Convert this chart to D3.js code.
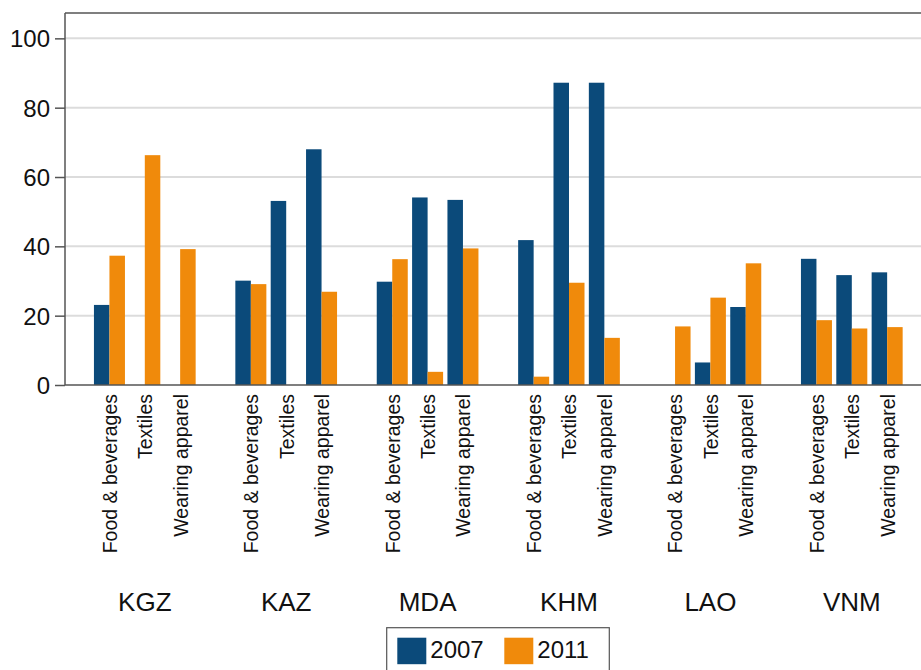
<!DOCTYPE html>
<html>
<head>
<meta charset="utf-8">
<script src="https://cdn.jsdelivr.net/npm/d3@7"></script>
<style>
  html, body { margin: 0; padding: 0; background: #fff; }
  svg { display: block; font-family: "Liberation Sans", Arial, sans-serif; }
</style>
</head>
<body>
<svg id="chart" width="921" height="670"></svg>
<script>
const countries = ["KGZ", "KAZ", "MDA", "KHM", "LAO", "VNM"];
const sectors = ["Food & beverages", "Textiles", "Wearing apparel"];
const years = ["2007", "2011"];
// values by country, sector order as above (null = no bar)
const values2007 = [
  [23.1, null, null],
  [30.1, 53.1, 68.0],
  [29.8, 54.1, 53.4],
  [41.8, 87.2, 87.2],
  [null, 6.5, 22.5],
  [36.4, 31.7, 32.5]
];
const values2011 = [
  [37.3, 66.3, 39.2],
  [29.1, null, 26.9],
  [36.3, 3.8, 39.4],
  [2.4, 29.5, 13.6],
  [16.9, 25.2, 35.1],
  [18.7, 16.3, 16.7]
];
const yTicks = [0, 20, 40, 60, 80, 100];
const colors = { "2007": "#0b4a7a", "2011": "#f08a0b" };

const svg = d3.select("#chart");
const plotLeft = 65, plotRight = 921;
const y = d3.scaleLinear().domain([0, 100]).range([385, 38.35]);
const yTopVal = 107.3;

const xCountry = d3.scaleBand().domain(countries).range([74.1, 922.5]).paddingInner(0).paddingOuter(0);
const xSector = d3.scaleBand().domain(sectors).range([0, xCountry.bandwidth()]).paddingOuter(0.5).paddingInner(0);
const xYear = d3.scaleBand().domain(years).range([0, xSector.bandwidth()]).paddingOuter(0.14).paddingInner(0);

// gridlines
svg.append("g").selectAll("line").data(yTicks.filter(d => d > 0)).join("line")
  .attr("x1", plotLeft).attr("x2", plotRight)
  .attr("y1", d => y(d)).attr("y2", d => y(d))
  .attr("stroke", "#dcdcdc").attr("stroke-width", 2);

// top frame line
svg.append("line").attr("x1", plotLeft).attr("x2", plotRight)
  .attr("y1", y(yTopVal)).attr("y2", y(yTopVal))
  .attr("stroke", "#555").attr("stroke-width", 1.5);

// bars
const barData = [];
countries.forEach((c, ci) => {
  sectors.forEach((s, si) => {
    [["2007", values2007], ["2011", values2011]].forEach(([yr, arr]) => {
      const v = arr[ci][si];
      if (v != null) barData.push({ c, s, yr, v });
    });
  });
});
svg.append("g").selectAll("rect").data(barData).join("rect")
  .attr("x", d => xCountry(d.c) + xSector(d.s) + xYear(d.yr))
  .attr("width", xYear.bandwidth())
  .attr("y", d => y(d.v))
  .attr("height", d => y(0) - y(d.v))
  .attr("fill", d => colors[d.yr]);

// y axis
const yAxis = d3.axisLeft(y).tickValues(yTicks).tickSize(10).tickPadding(5).tickFormat(d3.format("d"));
const gy = svg.append("g").attr("transform", `translate(${plotLeft},0)`).call(yAxis);
gy.select(".domain").remove();
gy.selectAll(".tick line").attr("stroke", "#555").attr("stroke-width", 1.5);
gy.selectAll(".tick text").attr("font-size", 24).attr("fill", "#111")
  .attr("font-family", "Liberation Sans, Arial, sans-serif").attr("dy", "0.36em");
svg.append("line").attr("x1", plotLeft).attr("x2", plotLeft)
  .attr("y1", y(yTopVal)).attr("y2", y(0))
  .attr("stroke", "#555").attr("stroke-width", 1.5);

// x axis line
svg.append("line").attr("x1", plotLeft).attr("x2", plotRight)
  .attr("y1", y(0)).attr("y2", y(0))
  .attr("stroke", "#555").attr("stroke-width", 1.5);

// sector labels (rotated)
const labelData = [];
countries.forEach(c => sectors.forEach(s => labelData.push({ c, s })));
svg.append("g").selectAll("text").data(labelData).join("text")
  .attr("transform", d => `translate(${xCountry(d.c) + xSector(d.s) + xSector.bandwidth() / 2},394) rotate(-90)`)
  .attr("text-anchor", "end")
  .attr("dy", "0.38em")
  .attr("font-size", 19.5)
  .attr("fill", "#111")
  .text(d => d.s);

// country labels
svg.append("g").selectAll("text").data(countries).join("text")
  .attr("x", d => xCountry(d) + xCountry.bandwidth() / 2)
  .attr("y", 611)
  .attr("text-anchor", "middle")
  .attr("font-size", 26)
  .attr("fill", "#111")
  .text(d => d);

// legend
const lg = svg.append("g");
lg.append("rect").attr("x", 386.7).attr("y", 627.7).attr("width", 222.6).attr("height", 60)
  .attr("fill", "#fff").attr("stroke", "#555").attr("stroke-width", 1.2);
const legendX = d3.scalePoint().domain(years).range([397.3, 504.3]);
years.forEach(yr => {
  lg.append("rect").attr("x", legendX(yr)).attr("y", 637.7).attr("width", 29).attr("height", 26.5)
    .attr("fill", colors[yr]);
  lg.append("text").attr("x", legendX(yr) + 33).attr("y", 658.3)
    .attr("font-size", 24).attr("fill", "#111").text(yr);
});
</script>
</body>
</html>
